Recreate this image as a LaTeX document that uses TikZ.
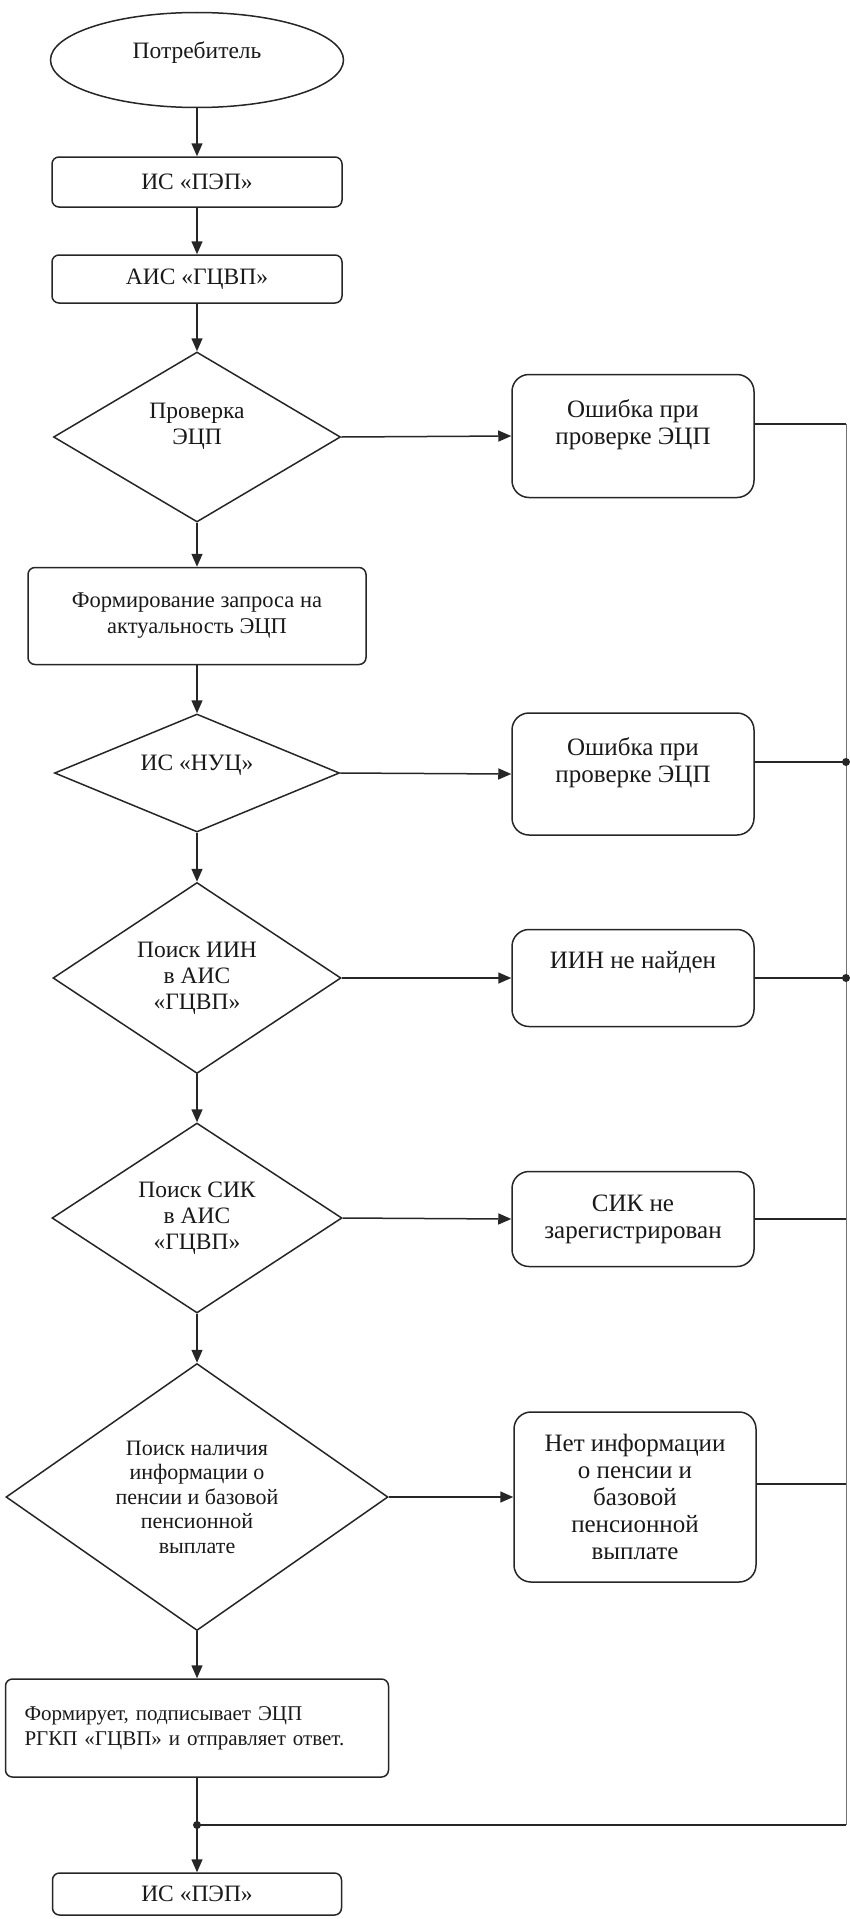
\documentclass[tikz,border=0pt]{standalone}
\usepackage{fontspec}
\setmainfont{Liberation Serif}
\usetikzlibrary{shapes.geometric,arrows.meta}

\tikzset{
  term/.style={draw, ellipse, inner sep=0pt},
  box/.style={draw, rounded corners=7pt, align=center},
  errbox/.style={draw, rounded corners=17pt, minimum width=242pt, align=center,
    font=\fontsize{25}{27}\selectfont},
  test/.style={draw, diamond, inner sep=0pt, align=center},
  rail/.style={draw=black!55, line width=1pt}
}

\begin{document}
\begin{tikzpicture}[x=1pt, y=-1pt, line width=1.5pt, draw=black!85, text=black!90,
    font=\fontsize{23.5}{26}\selectfont, >={Triangle[length=13pt,width=11pt]}]
      \useasboundingbox (0,0) rectangle (849,1919);

      % Main column
      \node[term, minimum width=293pt, minimum height=95pt, text depth=20pt] (cons) at (197,60) {Потребитель};
      \node[box, minimum width=290pt, minimum height=50pt] (pep1) at (197,182) {ИС «ПЭП»};
      \node[box, minimum width=290pt, minimum height=48pt] (gcvp) at (197,279) {АИС «ГЦВП»};
      \node[test, minimum width=287pt, minimum height=170pt, aspect=1.7] (chk) at (197,437) {Проверка\\ЭЦП\\~};
      \node[box, minimum width=338pt, minimum height=97pt, font=\fontsize{22.5}{26}\selectfont] (req) at (197,616) {Формирование запроса на\\актуальность ЭЦП};
      \node[test, minimum width=285pt, minimum height=118pt, aspect=2.4, text depth=20pt] (nuc) at (197,773) {ИС «НУЦ»};
      \node[test, minimum width=288pt, minimum height=191pt, aspect=1.5] (iin) at (197,978) {Поиск ИИН\\в АИС\\«ГЦВП»};
      \node[test, minimum width=290pt, minimum height=190pt, aspect=1.5] (sik) at (197,1218) {Поиск СИК\\в АИС\\«ГЦВП»};
      \node[test, minimum width=382pt, minimum height=267pt, aspect=1.43, font=\fontsize{22}{24.5}\selectfont] (pens) at (197,1497) {Поиск наличия\\информации о\\пенсии и базовой\\пенсионной\\выплате};
      \node[box, minimum width=383pt, minimum height=98pt, text width=345pt, align=left, font=\fontsize{21}{25}\selectfont] (resp) at (197,1728) {Формирует, подписывает ЭЦП\\РГКП «ГЦВП» и отправляет ответ.};
      \node[box, minimum width=289pt, minimum height=42pt] (pep2) at (197,1894) {ИС «ПЭП»};

      % Error boxes
      \node[errbox, minimum height=123pt] (err1) at (633,436) {Ошибка при\\проверке ЭЦП\\~};
      \node[errbox, minimum height=122pt] (err2) at (633,774) {Ошибка при\\проверке ЭЦП\\~};
      \node[errbox, minimum height=97pt, text depth=37pt] (err3) at (633,978) {ИИН не найден};
      \node[errbox, minimum height=95pt] (err4) at (633,1219) {СИК не\\зарегистрирован};
      \node[errbox, minimum height=170pt] (err5) at (635,1497) {Нет информации\\о пенсии и\\базовой\\пенсионной\\выплате};

      % Draw arrows
      \draw[->] (cons.south) -- (pep1.north);
      \draw[->] (pep1.south) -- (gcvp.north);
      \draw[->] (gcvp.south) -- (chk.north);
      \draw[->] (chk.south) -- (req.north);
      \draw[->] (req.south) -- (nuc.north);
      \draw[->] (nuc.south) -- (iin.north);
      \draw[->] (iin.south) -- (sik.north);
      \draw[->] (sik.south) -- (pens.north);
      \draw[->] (pens.south) -- (resp.north);
      \foreach \a/\b in {chk/err1, nuc/err2, iin/err3, sik/err4, pens/err5}
          \draw[->] (\a.east) -- (\b.west);

      % Return line
      \coordinate (J) at (197,1825);
      \coordinate (e1) at ([yshift=12pt]err1.east);
      \coordinate (e2) at ([yshift=12pt]err2.east);
      \coordinate (e3) at (err3.east);
      \coordinate (e4) at (err4.east);
      \coordinate (e5) at ([yshift=13pt]err5.east);
      \coordinate (railtop) at (846,424);
      \draw (e1) -- (railtop);
      \draw[rail] (railtop) -- (railtop |- J);
      \draw (railtop |- J) -- (J);
      \foreach \e in {e2,e3,e4,e5}
          \draw (\e) -- (\e -| railtop);
      \foreach \e in {e2,e3}
          \fill[black!85] (\e -| railtop) circle (4pt);
      \draw (resp.south) -- (J);
      \draw[->] (J) -- (pep2.north);
      \fill[black!85] (J) circle (4pt);
\end{tikzpicture}
\end{document}
